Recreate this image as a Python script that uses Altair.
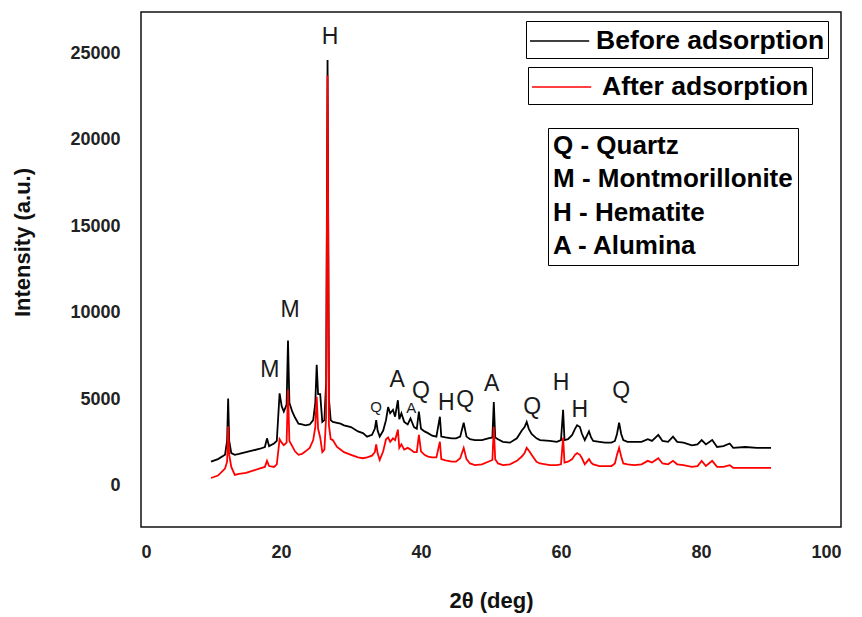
import altair as alt
import pandas as pd

# 2-theta grid (deg) and intensities (a.u.)
two_theta = [10.0, 11.0, 12.0, 12.3, 12.45, 12.6, 12.9, 13.4, 14.0, 15.0, 16.0, 17.0, 17.7, 18.0, 18.3,
             19.0, 19.4, 19.8, 20.1, 20.4, 20.8, 21.0, 21.2, 21.6, 22.0, 22.5, 23.0, 23.5, 24.1, 24.6,
             24.9, 25.1, 25.3, 25.6, 25.9, 26.2, 26.45, 26.65, 26.85, 27.1, 27.4, 28.0, 28.5, 29.0, 30.0,
             31.0, 31.7, 32.3, 33.0, 33.4, 33.6, 33.8, 34.1, 34.6, 35.0, 35.3, 35.6, 36.0, 36.3, 36.7,
             36.9, 37.2, 37.6, 38.1, 38.5, 39.0, 39.4, 39.7, 40.0, 40.5, 41.0, 41.6, 42.2, 42.7, 42.9,
             43.5, 44.4, 45.0, 45.6, 46.1, 46.5, 47.0, 47.7, 48.7, 49.6, 50.2, 50.4, 50.6, 51.0, 51.7,
             52.7, 53.7, 54.4, 54.8, 55.1, 55.4, 55.8, 56.5, 57.0, 58.4, 59.4, 60.0, 60.3, 60.5, 61.0,
             61.6, 62.0, 62.3, 62.7, 63.0, 63.4, 64.0, 64.3, 64.6, 65.5, 66.3, 67.2, 67.7, 68.0, 68.3,
             68.6, 68.9, 69.5, 70.5, 71.5, 72.4, 73.0, 73.9, 74.5, 75.3, 76.0, 76.6, 77.5, 78.7, 79.5,
             80.1, 80.7, 81.6, 82.3, 83.2, 84.1, 84.6, 86.3, 88.0, 90.0]

before = [1400, 1550, 1800, 2600, 5050, 2600, 1900, 1800, 1850, 1950, 2050, 2150, 2250, 2750, 2300,
          2450, 2600, 5350, 4600, 4300, 4700, 8400, 4800, 4300, 3950, 3600, 3550, 3500, 3550, 3800,
          4800, 7000, 5300, 5300, 3700, 3800, 6000, 24600, 5000, 3800, 3700, 3650, 3600, 3500, 3400,
          3150, 3050, 2850, 2950, 3300, 3800, 3200, 2850, 3200, 3800, 4550, 4200, 4400, 4000, 4950,
          3850, 4200, 3700, 3550, 3900, 3400, 3300, 4300, 3300, 3150, 3050, 2900, 2850, 4000, 2850,
          2800, 2750, 2750, 2850, 3650, 2850, 2700, 2650, 2650, 2750, 2800, 4850, 2800, 2700, 2550,
          2500, 2750, 3200, 3400, 3700, 3300, 3000, 2750, 2650, 2600, 2550, 2650, 4400, 2650, 2700,
          2950, 3300, 3500, 3400, 3000, 2650, 3150, 2800, 2600, 2550, 2500, 2500, 2600, 3000, 3650,
          3000, 2650, 2550, 2550, 2550, 2700, 2600, 2950, 2600, 2550, 2850, 2550, 2500, 2350, 2400,
          2650, 2400, 2650, 2250, 2300, 2450, 2200, 2250, 2200, 2200]

after = [460, 600, 1000, 1400, 3450, 1800, 1100, 640, 700, 760, 880, 1020, 1100, 1450, 1150,
         1100, 1250, 2700, 2500, 2350, 2500, 5550, 2600, 2300, 2000, 1800, 1850, 2000, 2200, 2650,
         3400, 5150, 3300, 2800, 1950, 2100, 4000, 23700, 3500, 2700, 2650, 2250, 2100, 1950, 1800,
         1650, 1600, 1650, 1750, 1950, 2400, 1900, 1500, 2000, 2700, 2800, 2550, 2750, 2650, 3250,
         2200, 2400, 2100, 2200, 2100, 1950, 1950, 2950, 2000, 1800, 1700, 1650, 1650, 2550, 1550,
         1480, 1400, 1400, 1600, 2200, 1550, 1300, 1200, 1250, 1400, 1500, 3400, 1550, 1300, 1200,
         1250, 1450, 1700, 1900, 2200, 2050, 1800, 1400, 1300, 1200, 1200, 1250, 2800, 1350, 1400,
         1550, 1800, 1900, 1800, 1600, 1250, 1550, 1350, 1250, 1150, 1150, 1150, 1300, 1800, 2200,
         1700, 1300, 1250, 1200, 1250, 1450, 1350, 1600, 1300, 1250, 1450, 1250, 1200, 1100, 1150,
         1450, 1150, 1450, 1100, 1100, 1200, 1050, 1050, 1050, 1050]

# peak annotations
peak_letters = ["H", "M", "M", "A", "Q", "Q", "A", "H", "Q", "A", "Q", "H", "H", "Q"]
peak_x = [27.0, 21.3, 18.4, 36.6, 40.0, 33.6, 38.6, 43.6, 46.3, 50.1, 55.9, 60.0, 62.7, 68.6]
peak_y = [25900, 10150, 6700, 6100, 5500, 4550, 4500, 4800, 4950, 5900, 4550, 5950, 4400, 5500]
peak_size = [23, 23, 23, 23, 23, 15, 15, 23, 23, 23, 23, 23, 23, 23]

key_codes = ["Q", "M", "H", "A"]
key_labels = ["Q - Quartz", "M - Montmorillonite", "H - Hematite", "A - Alumina"]
code_to_label = dict(zip(key_codes, key_labels))

FONT = "Liberation Sans"

df_before = pd.DataFrame({"tt": two_theta, "I": before, "series": "Before adsorption"})
df_after = pd.DataFrame({"tt": two_theta, "I": after, "series": "After adsorption"})
df_peaks = pd.DataFrame({"tt": peak_x, "I": peak_y, "letter": peak_letters, "fs": peak_size,
                         "key": [code_to_label[c] for c in peak_letters]})

xscale = alt.Scale(domain=[0, 100], nice=False)
yscale = alt.Scale(domain=[-2370, 27370], nice=False)

xenc = alt.X("tt:Q", scale=xscale,
             axis=alt.Axis(values=[0, 20, 40, 60, 80, 100], title="2θ (deg)", format="d",
                           labelPadding=16, titleY=73, titleBaseline="middle"))
yenc = alt.Y("I:Q", scale=yscale,
             axis=alt.Axis(values=[0, 5000, 10000, 15000, 20000, 25000], title="Intensity (a.u.)",
                           format="d", labelPadding=21, titleX=-119, titleY=230,
                           titleBaseline="middle", titleAlign="center"))


def line_legend(x, y, offset):
    # custom stroke path: long horizontal line starting at the symbol's left edge
    return alt.Legend(orient="none", legendX=x, legendY=y, title=None, strokeColor="black",
                      padding=3, symbolType="M-1,0H2.7", symbolSize=1024, symbolStrokeWidth=1.5,
                      labelFontSize=26.5, labelFont=FONT, labelFontWeight="bold",
                      labelColor="black", labelOffset=offset, labelLimit=500)


black_line = alt.Chart(df_before).mark_line(strokeWidth=1.8).encode(
    x=xenc, y=yenc,
    color=alt.Color("series:N", scale=alt.Scale(domain=["Before adsorption"], range=["#000000"]),
                    legend=line_legend(385, 9, 33)),
)

red_line = alt.Chart(df_after).mark_line(strokeWidth=1.8).encode(
    x=xenc, y=yenc,
    color=alt.Color("series:N", scale=alt.Scale(domain=["After adsorption"], range=["#ff0000"]),
                    legend=line_legend(387, 55, 37)),
)

# mineral key: shown as the (multi-line) title of the annotation layer's legend
peaks = alt.Chart(df_peaks).mark_text(font=FONT, baseline="middle", align="center").encode(
    x=xenc, y=yenc, text="letter:N",
    size=alt.Size("fs:Q", scale=None),
    color=alt.Color("key:N", scale=alt.Scale(domain=key_labels, range=["#1a1a1a"] * 4),
                    legend=alt.Legend(orient="none", legendX=407, legendY=116,
                                      title=key_labels, titleFont=FONT, titleFontSize=26,
                                      titleFontWeight="bold", titleColor="black",
                                      titleLineHeight=33.3, titleAnchor="start",
                                      titleAlign="left", titleBaseline="top",
                                      titlePadding=0, titleLimit=600,
                                      values=[key_labels[0]], labelExpr="''",
                                      labelFontSize=1, symbolSize=0, symbolOpacity=0,
                                      symbolStrokeWidth=0, strokeColor="black", padding=5)),
)

chart = alt.layer(black_line, red_line, peaks).resolve_scale(color="independent").properties(
    width=700, height=515,
    autosize=alt.AutoSizeParams(type="none"),
    padding={"left": 141, "top": 12, "right": 21, "bottom": 90},
).configure_view(stroke="#111111", strokeWidth=1.5).configure_axis(
    domain=False, ticks=False, grid=False,
    labelFont=FONT, labelFontWeight="bold", labelFontSize=18, labelColor="#222222",
    titleFont=FONT, titleFontWeight="bold", titleFontSize=22, titleColor="#111111",
)

chart.save("out.html", embed_options={"renderer": "svg", "actions": False})
